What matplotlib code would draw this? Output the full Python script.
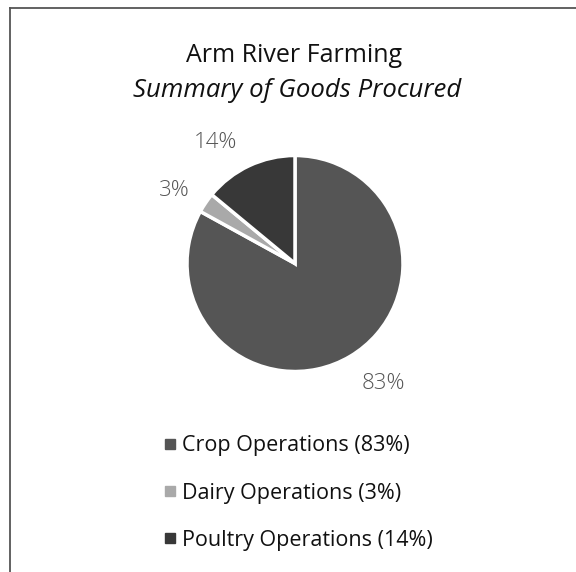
import matplotlib
matplotlib.use("Agg")
import matplotlib.pyplot as plt
from matplotlib.lines import Line2D

categories = ["Crop Operations", "Dairy Operations", "Poultry Operations"]
values = [83, 3, 14]
colors = ["#555555", "#a9a9a9", "#383838"]
title = "Arm River Farming"
subtitle = "Summary of Goods Procured"

plt.rcParams['font.family'] = ['Open Sans', 'DejaVu Sans']

W, H = 576, 572
fig = plt.figure(figsize=(W / 100, H / 100), dpi=100)

# border (left and top lines)
fig.add_artist(Line2D([9.5 / W, 9.5 / W], [0, 1 - 8 / H], transform=fig.transFigure, color="#555555", lw=1.3))
fig.add_artist(Line2D([9.5 / W, 1], [1 - 8 / H, 1 - 8 / H], transform=fig.transFigure, color="#555555", lw=1.3))

fig.text(294 / W, 1 - 62 / H, title, ha="center", va="baseline", fontsize=18, color="#111111")
fig.text(297 / W, 1 - 97 / H, subtitle, ha="center", va="baseline", fontsize=18.5, style="italic", color="#111111")

cx, cy, r = 295, 263.5, 108
half = 1.3 * r
ax = fig.add_axes([(cx - half) / W, (H - cy - half) / H, 2 * half / W, 2 * half / H])
ax.pie(values, colors=colors, startangle=90, counterclock=False,
       wedgeprops=dict(edgecolor="white", linewidth=2.5))
ax.set_xlim(-1.3, 1.3)
ax.set_ylim(-1.3, 1.3)
ax.set_aspect("equal")
ax.axis("off")

label_pos = [(0.82, -1.11), (-1.12, 0.68), (-0.74, 1.12)]
for v, (x, y) in zip(values, label_pos):
    ax.text(x, y, f"{v}%", ha="center", va="center", fontsize=16, color="#555555", fontweight="light")

handles = [Line2D([], [], marker="s", ls="", markersize=7.2, markerfacecolor=c, markeredgecolor=c) for c in colors]
labels = [f"{c} ({v}%)" for c, v in zip(categories, values)]
fig.legend(handles, labels, loc="center left", bbox_to_anchor=(163.5 / W, 1 - 493 / H),
           frameon=False, fontsize=15.5, handlelength=0.6, handletextpad=0.28, labelspacing=1.21,
           borderpad=0, borderaxespad=0, labelcolor="#111111")

fig.savefig("out.png", dpi=100)
